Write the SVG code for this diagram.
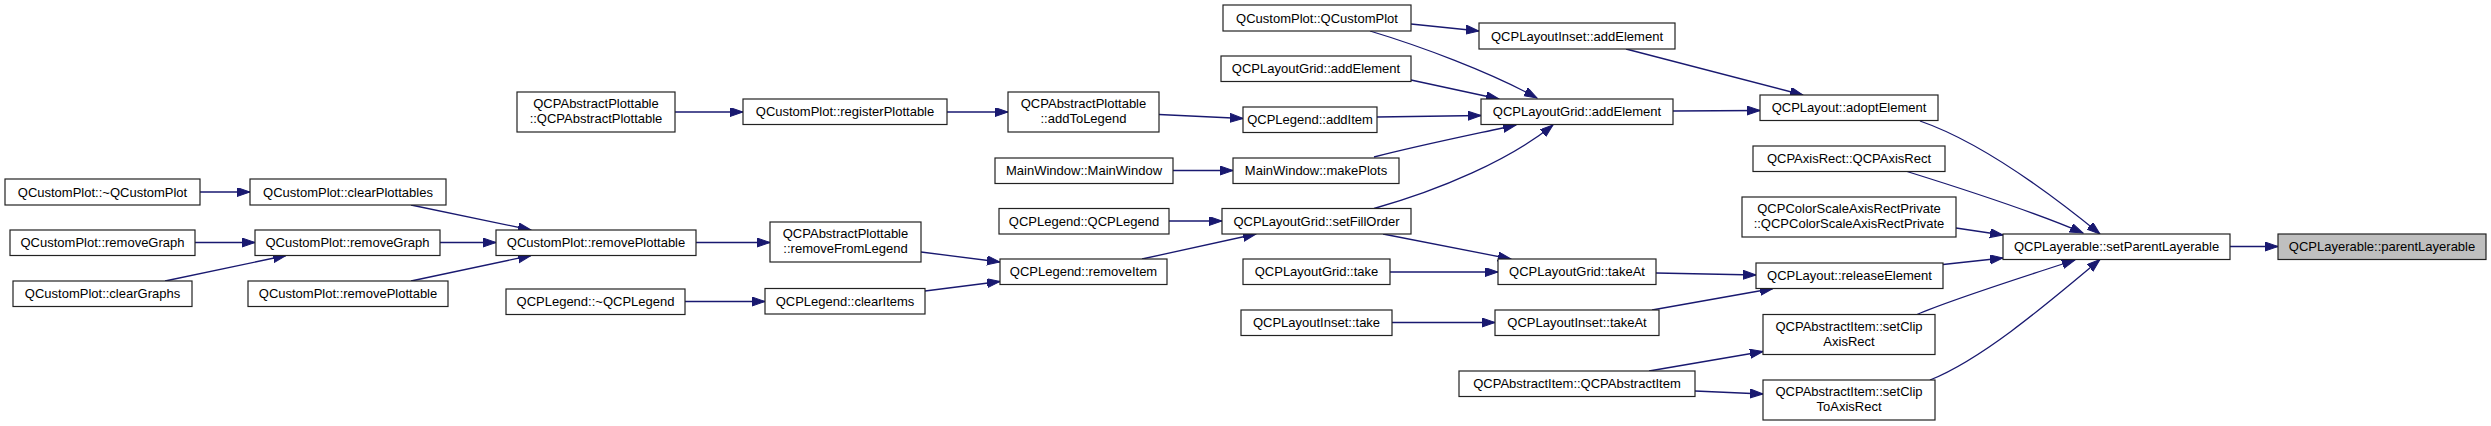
<svg xmlns="http://www.w3.org/2000/svg" width="2491" height="426" viewBox="0 0 2491 426">
<style>
.n rect{fill:#fff;stroke:#222;stroke-width:1.2}
.n text{font-family:"Liberation Sans",Arial,sans-serif;font-size:13px;fill:#000;text-anchor:middle}
#n_pl rect{fill:#bfbfbf}
.e path{fill:none;stroke:#191970;stroke-width:1.3}
</style>
<defs>
<marker id="ah" markerUnits="userSpaceOnUse" markerWidth="14" markerHeight="10" refX="13" refY="4.5" orient="auto">
<path d="M0,0 L13,4.5 L0,9 z" fill="#191970" stroke="#191970" stroke-width="1"/>
</marker>
</defs>
<rect width="2491" height="426" fill="#fff"/>
<g class="e" marker-end="url(#ah)">
<path marker-end="url(#ah)" d="M675,112 L743,112"/>
<path marker-end="url(#ah)" d="M947,112 L1008,112"/>
<path marker-end="url(#ah)" d="M1159,114.5 L1243,118.5"/>
<path marker-end="url(#ah)" d="M1377,117 L1481,115.5"/>
<path marker-end="url(#ah)" d="M1411,24 L1479,31"/>
<path marker-end="url(#ah)" d="M1370,31 C1420,46 1490,72 1537,98"/>
<path marker-end="url(#ah)" d="M1411,80 L1499,99"/>
<path marker-end="url(#ah)" d="M1173,170.5 L1233,170.5"/>
<path marker-end="url(#ah)" d="M1374,157 C1420,145 1480,133 1516,125"/>
<path marker-end="url(#ah)" d="M1374,208.5 C1440,190 1510,160 1553,125"/>
<path marker-end="url(#ah)" d="M1626,49 L1803,95"/>
<path marker-end="url(#ah)" d="M1673,111 L1760,110.5"/>
<path marker-end="url(#ah)" d="M1920,121 C1975,140 2040,185 2100,234"/>
<path marker-end="url(#ah)" d="M1907,171.5 C1960,188 2030,210 2083,233"/>
<path marker-end="url(#ah)" d="M1956,228 L2003,235"/>
<path marker-end="url(#ah)" d="M1943,264.5 L2003,258"/>
<path marker-end="url(#ah)" d="M1917,314.5 C1950,300 2020,278 2075,260"/>
<path marker-end="url(#ah)" d="M1930,380 C1980,360 2040,310 2100,259.5"/>
<path marker-end="url(#ah)" d="M2230,246.5 L2278,246.5"/>
<path marker-end="url(#ah)" d="M200,192 L250,192"/>
<path marker-end="url(#ah)" d="M411,205 L531,230"/>
<path marker-end="url(#ah)" d="M195,242.5 L255,242.5"/>
<path marker-end="url(#ah)" d="M165,281 L286,255.5"/>
<path marker-end="url(#ah)" d="M440,242.5 L496,242.5"/>
<path marker-end="url(#ah)" d="M411,281 L531,255.5"/>
<path marker-end="url(#ah)" d="M696,242.5 L770,242.5"/>
<path marker-end="url(#ah)" d="M921,252 L1000,262"/>
<path marker-end="url(#ah)" d="M685,301.5 L765,301.5"/>
<path marker-end="url(#ah)" d="M925,291 L1000,281.5"/>
<path marker-end="url(#ah)" d="M1142,259 L1256,234"/>
<path marker-end="url(#ah)" d="M1169,221 L1222,221"/>
<path marker-end="url(#ah)" d="M1383,234 L1511,259"/>
<path marker-end="url(#ah)" d="M1390,272 L1498,272"/>
<path marker-end="url(#ah)" d="M1656,273 L1756,275"/>
<path marker-end="url(#ah)" d="M1392,322.5 L1495,322.5"/>
<path marker-end="url(#ah)" d="M1652,310 L1773,288.5"/>
<path marker-end="url(#ah)" d="M1649,371 L1763,351.5"/>
<path marker-end="url(#ah)" d="M1695,391 L1763,394"/>
</g>
<g id="n_qcpdtor" class="n"><rect x="5" y="179" width="195" height="26"/><text x="102.5" y="196.5">QCustomPlot::~QCustomPlot</text></g>
<g id="n_rg1" class="n"><rect x="10" y="230" width="185" height="25.5"/><text x="102.5" y="247">QCustomPlot::removeGraph</text></g>
<g id="n_cg" class="n"><rect x="13" y="281" width="179" height="25.5"/><text x="102.5" y="298">QCustomPlot::clearGraphs</text></g>
<g id="n_cp" class="n"><rect x="250" y="179" width="196" height="26"/><text x="348" y="196.5">QCustomPlot::clearPlottables</text></g>
<g id="n_rg2" class="n"><rect x="255" y="230" width="185" height="25.5"/><text x="347.5" y="247">QCustomPlot::removeGraph</text></g>
<g id="n_rp2" class="n"><rect x="248" y="281" width="200" height="25.5"/><text x="348" y="298">QCustomPlot::removePlottable</text></g>
<g id="n_app" class="n"><rect x="517" y="92" width="158" height="40"/><text x="596" y="108">QCPAbstractPlottable</text><text x="596" y="123">::QCPAbstractPlottable</text></g>
<g id="n_rp1" class="n"><rect x="496" y="230" width="200" height="25.5"/><text x="596" y="247">QCustomPlot::removePlottable</text></g>
<g id="n_ldtor" class="n"><rect x="506" y="289" width="179" height="25.5"/><text x="595.5" y="306">QCPLegend::~QCPLegend</text></g>
<g id="n_reg" class="n"><rect x="743" y="99" width="204" height="25.5"/><text x="845" y="116">QCustomPlot::registerPlottable</text></g>
<g id="n_rfl" class="n"><rect x="770" y="222" width="151" height="40"/><text x="845.5" y="238">QCPAbstractPlottable</text><text x="845.5" y="253">::removeFromLegend</text></g>
<g id="n_ci" class="n"><rect x="765" y="288.5" width="160" height="25.5"/><text x="845" y="305.5">QCPLegend::clearItems</text></g>
<g id="n_atl" class="n"><rect x="1008" y="92" width="151" height="40"/><text x="1083.5" y="108">QCPAbstractPlottable</text><text x="1083.5" y="123">::addToLegend</text></g>
<g id="n_mwc" class="n"><rect x="995" y="158" width="178" height="25.5"/><text x="1084" y="175">MainWindow::MainWindow</text></g>
<g id="n_lc" class="n"><rect x="999" y="208.5" width="170" height="25.5"/><text x="1084" y="225.5">QCPLegend::QCPLegend</text></g>
<g id="n_ri" class="n"><rect x="1000" y="259" width="167" height="25.5"/><text x="1083.5" y="276">QCPLegend::removeItem</text></g>
<g id="n_qcp" class="n"><rect x="1223" y="5" width="188" height="26"/><text x="1317" y="22.5">QCustomPlot::QCustomPlot</text></g>
<g id="n_lgae1" class="n"><rect x="1221" y="56" width="190" height="25.5"/><text x="1316" y="73">QCPLayoutGrid::addElement</text></g>
<g id="n_ai" class="n"><rect x="1243" y="107" width="134" height="25.5"/><text x="1310" y="124">QCPLegend::addItem</text></g>
<g id="n_mp" class="n"><rect x="1233" y="158" width="166" height="25.5"/><text x="1316" y="175">MainWindow::makePlots</text></g>
<g id="n_sfo" class="n"><rect x="1222" y="208.5" width="189" height="25.5"/><text x="1316.5" y="225.5">QCPLayoutGrid::setFillOrder</text></g>
<g id="n_lgt" class="n"><rect x="1243" y="259" width="147" height="25.5"/><text x="1316.5" y="276">QCPLayoutGrid::take</text></g>
<g id="n_lit" class="n"><rect x="1241" y="310" width="151" height="25.5"/><text x="1316.5" y="327">QCPLayoutInset::take</text></g>
<g id="n_liae" class="n"><rect x="1479" y="23" width="196" height="26"/><text x="1577" y="40.5">QCPLayoutInset::addElement</text></g>
<g id="n_lgae2" class="n"><rect x="1481" y="99" width="192" height="25.5"/><text x="1577" y="116">QCPLayoutGrid::addElement</text></g>
<g id="n_lgta" class="n"><rect x="1498" y="259" width="158" height="25.5"/><text x="1577" y="276">QCPLayoutGrid::takeAt</text></g>
<g id="n_lita" class="n"><rect x="1495" y="310" width="164" height="25.5"/><text x="1577" y="327">QCPLayoutInset::takeAt</text></g>
<g id="n_aic" class="n"><rect x="1459" y="371" width="236" height="25.5"/><text x="1577" y="388">QCPAbstractItem::QCPAbstractItem</text></g>
<g id="n_ae" class="n"><rect x="1760" y="95" width="178" height="25.5"/><text x="1849" y="112">QCPLayout::adoptElement</text></g>
<g id="n_ar" class="n"><rect x="1753" y="146" width="192" height="25.5"/><text x="1849" y="163">QCPAxisRect::QCPAxisRect</text></g>
<g id="n_cs" class="n"><rect x="1742" y="197" width="214" height="40"/><text x="1849" y="213">QCPColorScaleAxisRectPrivate</text><text x="1849" y="228">::QCPColorScaleAxisRectPrivate</text></g>
<g id="n_re" class="n"><rect x="1756" y="263" width="187" height="25.5"/><text x="1849.5" y="280">QCPLayout::releaseElement</text></g>
<g id="n_sca" class="n"><rect x="1763" y="314.5" width="172" height="40"/><text x="1849" y="330.5">QCPAbstractItem::setClip</text><text x="1849" y="345.5">AxisRect</text></g>
<g id="n_scta" class="n"><rect x="1763" y="380" width="172" height="40"/><text x="1849" y="396">QCPAbstractItem::setClip</text><text x="1849" y="411">ToAxisRect</text></g>
<g id="n_spl" class="n"><rect x="2003" y="234" width="227" height="25.5"/><text x="2116.5" y="251">QCPLayerable::setParentLayerable</text></g>
<g id="n_pl" class="n"><rect x="2278" y="234" width="208" height="25.5"/><text x="2382" y="251">QCPLayerable::parentLayerable</text></g>
</svg>
